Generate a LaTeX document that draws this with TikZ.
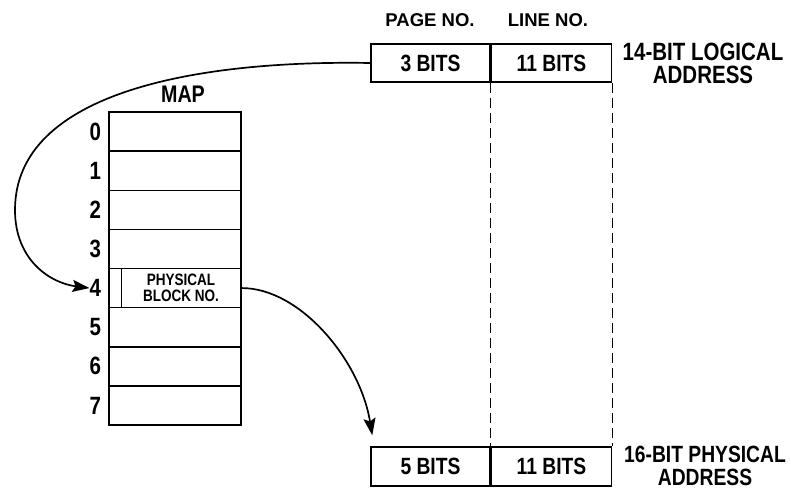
\documentclass[tikz,border=0pt]{standalone}
\usepackage{fontspec}
\setmainfont[FakeStretch=0.82]{Liberation Sans}
\newfontfamily\widefont{Liberation Sans}
\usepackage{tikz}
\usetikzlibrary{arrows.meta, positioning, calc}
\tikzset{
  field/.style={draw, line width=1.5pt, minimum height=38pt, inner sep=0pt, font=\fontsize{23.5}{24}\selectfont\bfseries},
  maprow/.style={draw, line width=1.5pt, minimum width=132pt, minimum height=39.125pt, inner sep=0pt},
  rownum/.style={inner sep=0pt, font=\fontsize{25}{25}\selectfont\bfseries},
  heading/.style={inner sep=0pt, font=\widefont\fontsize{18.5}{18}\selectfont\bfseries},
  addr/.style={align=center, inner sep=0pt, font=\fontsize{25}{23}\selectfont\bfseries},
  guide/.style={dash pattern=on 10pt off 5pt, line width=1.4pt},
  link/.style={-{Stealth[length=17pt, width=12pt, inset=3pt]}, line width=1.7pt}
}

\begin{document}
\begin{tikzpicture}[x=1pt, y=1pt]
        \useasboundingbox (0,0) rectangle (791,491);

        % Logical address
        \node[heading] (pagehead) at (430,471) {PAGE NO.};
        \node[heading] (linehead) at (548,471) {LINE NO.};
        \node[field, minimum width=119pt] (page) at (430.5,428) {3 BITS};
        \node[field, minimum width=120pt, anchor=west] (line) at (page.east) {11 BITS};
        \node[addr] (logaddr) at (703,427.5) {14-BIT LOGICAL\\ADDRESS};

        % Map
        \node[font=\fontsize{24}{24}\selectfont\bfseries, inner sep=0pt] (maptitle) at (183,397) {MAP};
        \foreach \i in {0,...,7} {
          \node[maprow] (r\i) at (175,{379-39.125*(\i+0.5)}) {};
          \node[rownum, left=7pt of r\i] (n\i) {\i};
        }
        \draw[line width=1.5pt] ([xshift=13pt]r4.north west) -- ([xshift=13pt]r4.south west);
        \node[align=center, inner sep=0pt, font=\fontsize{16.5}{15.5}\selectfont\bfseries] (blockno) at (181,203) {PHYSICAL\\BLOCK NO.};

        % Physical address
        \node[field, minimum width=119pt, minimum height=39pt] (pblock) at (430.5,24.5) {5 BITS};
        \node[field, minimum width=120pt, minimum height=39pt, anchor=west] (pline) at (pblock.east) {11 BITS};
        \node[addr, font=\fontsize{23.5}{23}\selectfont\bfseries] (physaddr) at (705,25) {16-BIT PHYSICAL\\ADDRESS};

        % Guides
        \draw[guide] (page.south east) -- (pblock.north east);
        \draw[guide] (line.south east) -- (pline.north east);

        % Links
        \coordinate (bend) at (15,281);
        \coordinate (tip) at ($(pblock.north west)+(2,11)$);
        \draw[link] (page.west) .. controls (200,431) and (15,400) .. (bend)
                    .. controls (15,231) and (50,208) .. (n4.west);
        \draw[link] (r4.east) .. controls (300,203) and (360,131) .. (tip);
    \end{tikzpicture}
\end{document}
